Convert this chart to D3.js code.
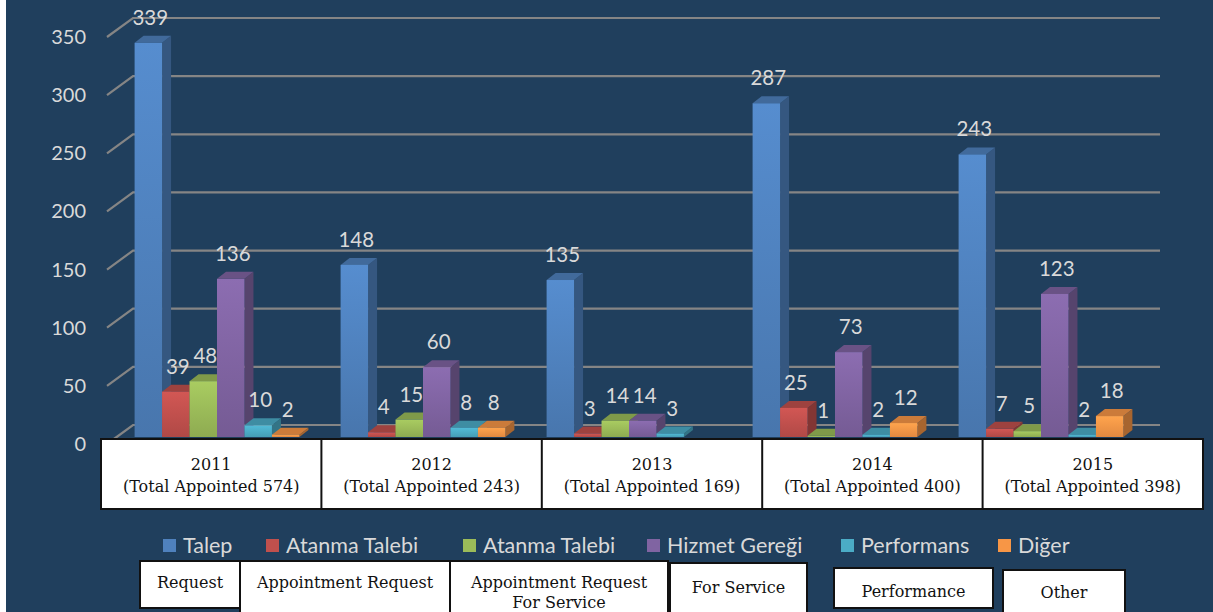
<!DOCTYPE html>
<html>
<head>
<meta charset="utf-8">
<script src="https://cdn.jsdelivr.net/npm/d3@7"></script>
<style>
  body { margin: 0; background: #ffffff; }
  svg { display: block; }
</style>
</head>
<body>
<svg id="chart"></svg>
<script>
// data
var years = ["2011", "2012", "2013", "2014", "2015"];
var totals = [574, 243, 169, 400, 398];
var seriesNames = ["Talep", "Atanma Talebi", "Atanma Talebi", "Hizmet Gereği", "Performans", "Diğer"];
var seriesColors = ["#4f81bd", "#c0504d", "#9bbb59", "#8064a2", "#4bacc6", "#f79646"];
var talep = [339, 148, 135, 287, 243];
var atanma = [39, 4, 3, 25, 7];
var atanmaHizmet = [48, 15, 14, 1, 5];
var hizmet = [136, 60, 14, 73, 123];
var performans = [10, 8, 3, 2, 2];
var diger = [2, 8, 0, 12, 18];
var yTicks = [0, 50, 100, 150, 200, 250, 300, 350];
var englishNames = ["Request", "Appointment Request", "Appointment Request\nFor Service", "For Service", "Performance", "Other"];

var series = [talep, atanma, atanmaHizmet, hizmet, performans, diger];

var W = 1213, H = 612;
var sans = "Lato, 'Open Sans', sans-serif";
var serif = "'DejaVu Serif', 'Liberation Serif', serif";
var svg = d3.select("#chart").attr("width", W).attr("height", H);

svg.append("rect").attr("width", W).attr("height", H).attr("fill", "#ffffff");
svg.append("rect").attr("x", 6).attr("width", W - 6).attr("height", H).attr("fill", "#203f5d");

// scales
var yScale = d3.scaleLinear().domain([0, 350]).range([437, 30]);
var x0 = d3.scaleBand().domain(years).range([114, 1144]).paddingInner(0.2).paddingOuter(0.1);
var x1 = d3.scaleBand().domain(d3.range(series.length)).range([0, x0.bandwidth()]);

var depthX = 9, depthY = 7;
var wallShift = 12;   // back wall sits above bar baseline
var frontX = 107, backX = 133, gridEnd = 1160;

// grid lines on back wall + diagonal side wall
var grid = svg.append("g");
yTicks.forEach(function(t) {
    var gy = yScale(t) - wallShift;
    grid.append("path")
        .attr("d", "M" + frontX + "," + (gy + 19) + "L" + backX + "," + gy + "L" + gridEnd + "," + gy)
        .attr("fill", "none")
        .attr("stroke", "#858585")
        .attr("stroke-width", 2.2);
    grid.append("text")
        .attr("x", 86)
        .attr("y", gy + 19)
        .attr("dy", "0.35em")
        .attr("text-anchor", "end")
        .attr("fill", "#d9d9d9")
        .attr("font-family", sans)
        .attr("font-size", "20px")
        .text(t);
});

// gradients for bar fronts
var defs = svg.append("defs");
seriesColors.forEach(function(c, i) {
    var g = defs.append("linearGradient")
        .attr("id", "grad" + i)
        .attr("x1", 0).attr("y1", 0).attr("x2", 0).attr("y2", 1);
    g.append("stop").attr("offset", "0%").attr("stop-color", d3.color(c).brighter(0.25));
    g.append("stop").attr("offset", "100%").attr("stop-color", d3.color(c).darker(0.25));
});

// 3d bars
var bars = svg.append("g");
years.forEach(function(yr, gi) {
    series.forEach(function(s, si) {
        var v = s[gi];
        if (!v) return;
        var c = seriesColors[si];
        var x = x0(yr) + x1(si);
        var w = x1.bandwidth();
        var yTop = yScale(v), yBot = yScale(0);
        // side face
        bars.append("path")
            .attr("d", "M" + (x + w) + "," + yBot + "L" + (x + w + depthX) + "," + (yBot - depthY) +
                "L" + (x + w + depthX) + "," + (yTop - depthY) + "L" + (x + w) + "," + yTop + "Z")
            .attr("fill", d3.color(c).darker(1.1));
        // top face
        bars.append("path")
            .attr("d", "M" + x + "," + yTop + "L" + (x + depthX) + "," + (yTop - depthY) +
                "L" + (x + w + depthX) + "," + (yTop - depthY) + "L" + (x + w) + "," + yTop + "Z")
            .attr("fill", d3.color(c).darker(0.55));
        // front face
        bars.append("rect")
            .attr("x", x)
            .attr("y", yTop)
            .attr("width", w)
            .attr("height", yBot - yTop)
            .attr("fill", "url(#grad" + si + ")");
    });
});

// value labels
var labels = svg.append("g");
years.forEach(function(yr, gi) {
    series.forEach(function(s, si) {
        var v = s[gi];
        if (!v) return;
        labels.append("text")
            .attr("x", x0(yr) + x1(si) + x1.bandwidth() / 2 + 2)
            .attr("y", yScale(v) - 18)
            .attr("text-anchor", "middle")
            .attr("fill", "#d9d9d9")
            .attr("font-family", sans)
            .attr("font-size", "20.5px")
            .text(v);
    });
});

// category table under the plot
var tableX = d3.scaleBand().domain(years).range([101, 1203]);
var table = svg.append("g");
table.append("rect")
    .attr("x", 101).attr("y", 439)
    .attr("width", 1102).attr("height", 70)
    .attr("fill", "#ffffff")
    .attr("stroke", "#111111")
    .attr("stroke-width", 2);
years.forEach(function(yr, gi) {
    if (gi > 0) {
        table.append("line")
            .attr("x1", tableX(yr)).attr("x2", tableX(yr))
            .attr("y1", 439).attr("y2", 509)
            .attr("stroke", "#111111").attr("stroke-width", 2);
    }
    var cx = tableX(yr) + tableX.bandwidth() / 2;
    var t = table.append("text")
        .attr("text-anchor", "middle")
        .attr("font-family", serif)
        .attr("font-size", "16px")
        .attr("fill", "#111111");
    t.append("tspan").attr("x", cx).attr("y", 470).text(yr);
    t.append("tspan").attr("x", cx).attr("y", 492).text("(Total Appointed " + totals[gi] + ")");
});

// legend
var legendX = [163, 266, 463, 647, 841, 998];
var legend = svg.append("g");
seriesNames.forEach(function(n, i) {
    legend.append("rect")
        .attr("x", legendX[i]).attr("y", 539)
        .attr("width", 13).attr("height", 13)
        .attr("fill", seriesColors[i]);
    legend.append("text")
        .attr("x", legendX[i] + 20)
        .attr("y", 553)
        .attr("fill", "#d9d9d9")
        .attr("font-family", sans)
        .attr("font-size", "21.5px")
        .text(n);
});

// english translation boxes
var boxes = [
    {x: 140, y: 561, w: 100, h: 47, ty: 588},
    {x: 240, y: 561, w: 210, h: 60, ty: 588},
    {x: 450, y: 561, w: 218, h: 60, ty: 588},
    {x: 670, y: 563, w: 137, h: 60, ty: 593},
    {x: 834, y: 568, w: 159, h: 40, ty: 597},
    {x: 1003, y: 570, w: 122, h: 50, ty: 598}
];
var eng = svg.append("g");
englishNames.forEach(function(n, i) {
    var b = boxes[i];
    eng.append("rect")
        .attr("x", b.x).attr("y", b.y)
        .attr("width", b.w).attr("height", b.h)
        .attr("fill", "#ffffff")
        .attr("stroke", "#111111")
        .attr("stroke-width", 2);
    var t = eng.append("text")
        .attr("text-anchor", "middle")
        .attr("font-family", serif)
        .attr("font-size", "16px")
        .attr("fill", "#111111");
    n.split("\n").forEach(function(line, li) {
        t.append("tspan").attr("x", b.x + b.w / 2).attr("y", b.ty + li * 20).text(line);
    });
});
</script>
</body>
</html>
